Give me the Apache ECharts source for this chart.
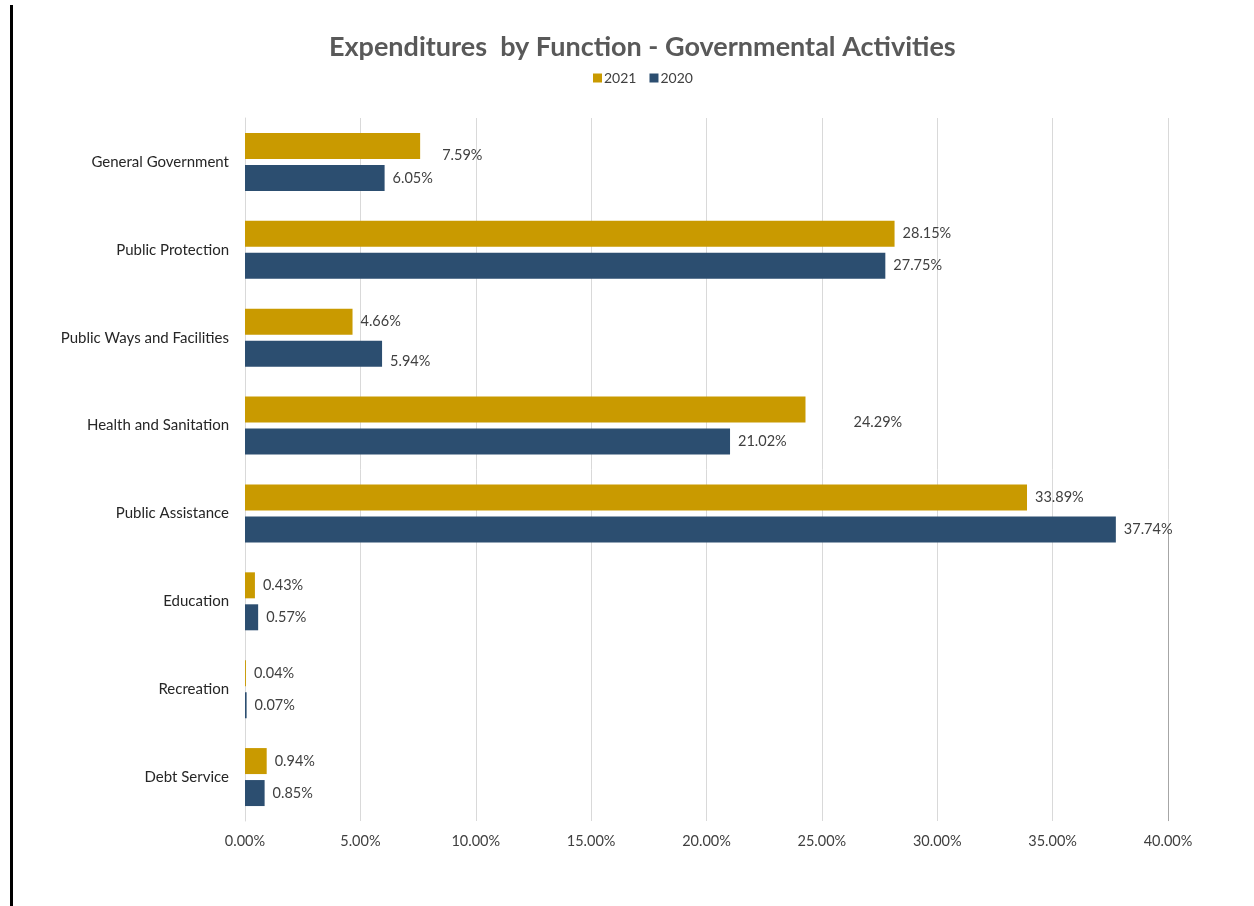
<!DOCTYPE html>
<html>
<head>
<meta charset="utf-8">
<script src="https://cdn.jsdelivr.net/npm/echarts@6/dist/echarts.min.js"></script>
<style>
  html, body { margin: 0; padding: 0; background: #ffffff; }
  #chart { width: 1254px; height: 906px; }
</style>
</head>
<body>
<div id="chart"></div>
<script>
// Share of governmental expenditures by function (percent)
const categories = [
  'General Government', 'Public Protection', 'Public Ways and Facilities',
  'Health and Sanitation', 'Public Assistance', 'Education', 'Recreation', 'Debt Service'
];
const values2021 = [7.59, 28.15, 4.66, 24.29, 33.89, 0.43, 0.04, 0.94];
const values2020 = [6.05, 27.75, 5.94, 21.02, 37.74, 0.57, 0.07, 0.85];
const xTicks = { min: 0, max: 40, interval: 5 };

// Value labels that sit a little away from their bar ends
const nudge2021 = { 0: [14, 9], 3: [40, 13] };
const nudge2020 = { 2: [0, 8] };

const FONT = 'Lato, "Open Sans", sans-serif';
const GOLD = '#C99A00';
const NAVY = '#2C4E70';

function items(values, nudge) {
  return values.map((v, i) => {
    const item = { value: v };
    if (nudge[i]) item.label = { offset: nudge[i] };
    return item;
  });
}

const labelStyle = {
  show: true,
  position: 'right',
  distance: 8,
  color: '#404040',
  fontFamily: FONT,
  fontSize: 14.5,
  formatter: p => p.value.toFixed(2) + '%'
};

const chart = echarts.init(document.getElementById('chart'), null, { renderer: 'canvas' });

chart.setOption({
  backgroundColor: '#ffffff',
  animation: false,
  title: {
    text: 'Expenditures  by Function - Governmental Activities',
    left: 324,
    top: 29,
    textStyle: { color: '#595959', fontFamily: FONT, fontSize: 27, fontWeight: 'bold' }
  },
  legend: {
    top: 66,
    left: 588,
    icon: 'rect',
    itemWidth: 9,
    itemHeight: 9,
    itemGap: 13,
    textStyle: { color: '#404040', fontFamily: FONT, fontSize: 14, padding: [0, 0, 0, -3] },
    data: ['2021', '2020']
  },
  grid: { left: 245, right: 86, top: 118, bottom: 85, containLabel: false },
  xAxis: {
    type: 'value',
    min: xTicks.min,
    max: xTicks.max,
    interval: xTicks.interval,
    axisLine: { show: false },
    axisTick: { show: false },
    splitLine: { lineStyle: { color: '#d9d9d9', width: 1 } },
    axisLabel: {
      color: '#404040',
      fontFamily: FONT,
      fontSize: 14.5,
      margin: 13,
      formatter: v => v.toFixed(2) + '%'
    }
  },
  yAxis: {
    type: 'category',
    data: categories,
    inverse: true,
    axisLine: { show: true, lineStyle: { color: '#d9d9d9' } },
    axisTick: { show: false },
    axisLabel: { color: '#262626', fontFamily: FONT, fontSize: 15, margin: 16 }
  },
  series: [
    {
      name: '2021',
      type: 'bar',
      data: items(values2021, nudge2021),
      barWidth: 26,
      barGap: '23%',
      itemStyle: { color: GOLD },
      label: labelStyle
    },
    {
      name: '2020',
      type: 'bar',
      data: items(values2020, nudge2020),
      barWidth: 26,
      itemStyle: { color: NAVY },
      label: labelStyle
    }
  ]
});

// Frame rule on the left edge and the darker stretch of the 40% gridline
const x40 = chart.convertToPixel({ xAxisIndex: 0 }, 40);
const yPA = chart.convertToPixel({ yAxisIndex: 0 }, 'Public Assistance');
const yBottom = chart.convertToPixel({ yAxisIndex: 0 }, 'Debt Service') + 44;
chart.setOption({
  graphic: [
    { type: 'rect', shape: { x: 10, y: 5, width: 3, height: 901 }, style: { fill: '#000000' }, silent: true },
    { type: 'line', shape: { x1: Math.round(x40) + 0.5, y1: yPA + 18, x2: Math.round(x40) + 0.5, y2: yBottom },
      style: { stroke: '#a6a6a6', lineWidth: 1 }, silent: true }
  ]
});
</script>
</body>
</html>
